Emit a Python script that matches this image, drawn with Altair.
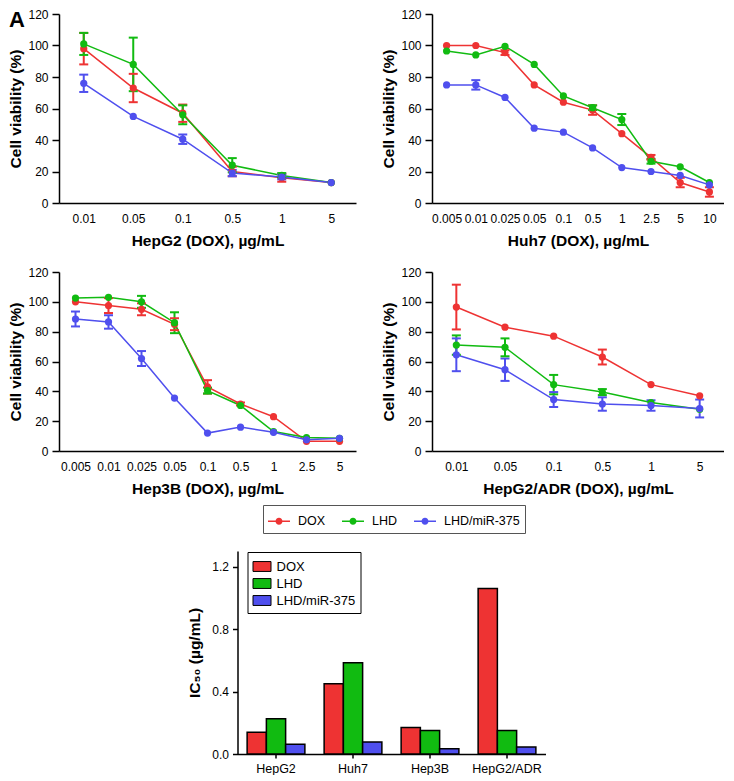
import altair as alt
import pandas as pd

SERIES = ["DOX", "LHD", "LHD/miR-375"]
COLORS = ["#EE3333", "#11BB11", "#4F4FEE"]
FONT = "Liberation Sans"

# ---- HepG2 ----
hepg2_doses = ["0.01", "0.05", "0.1", "0.5", "1", "5"]
hepg2_dox = [98, 73, 57, 20, 16, 13]
hepg2_dox_err = [10, 9, 5.5, 3, 2.5, 0]
hepg2_lhd = [101, 88, 56, 24, 17.5, 13]
hepg2_lhd_err = [7, 17, 6, 4.5, 1.5, 0]
hepg2_mir = [76, 55, 40.5, 19, 16.5, 13]
hepg2_mir_err = [5.5, 0, 3, 2, 1.5, 0]

# ---- Huh7 ----
huh7_doses = ["0.005", "0.01", "0.025", "0.05", "0.1", "0.5", "1", "2.5", "5", "10"]
huh7_dox = [100, 100, 95.5, 75, 64, 59, 44, 29, 13, 7]
huh7_dox_err = [0, 0, 1.5, 0, 0, 3, 0, 1.5, 3, 3]
huh7_lhd = [96.5, 94, 99.5, 88, 68, 60.5, 53, 26.5, 23, 13]
huh7_lhd_err = [0, 0, 0, 0, 0, 1.5, 3.5, 1.5, 0, 0]
huh7_mir = [75, 75, 67, 47.5, 45, 35, 22.5, 20, 17.5, 11.5]
huh7_mir_err = [0, 3, 0, 0, 0, 0, 0, 0, 0, 0]

# ---- Hep3B ----
hep3b_doses = ["0.005", "0.01", "0.025", "0.05", "0.1", "0.5", "1", "2.5", "5"]
hep3b_dox = [100, 97.5, 95, 85, 43, 31.5, 23, 6.5, 6.5]
hep3b_dox_err = [0, 5, 4, 4, 4.5, 1, 0, 0, 0]
hep3b_lhd = [102.5, 103, 100, 86, 40.5, 30.5, 13, 9, 8.5]
hep3b_lhd_err = [0, 0, 4, 7, 2, 0, 0, 0, 0]
hep3b_mir = [88.5, 86.5, 62, 35.5, 12, 16, 12.5, 7.5, 8.5]
hep3b_mir_err = [5, 4.5, 5, 0, 0, 0, 0, 0, 0]

# ---- HepG2/ADR ----
adr_doses = ["0.01", "0.05", "0.1", "0.5", "1", "5"]
adr_dox = [96.5, 83, 77, 63, 44.5, 37]
adr_dox_err = [15, 0, 0, 5, 0, 0]
adr_lhd = [71, 69.5, 44.5, 39.5, 32.5, 28]
adr_lhd_err = [6.5, 6, 6.5, 2, 0, 0]
adr_mir = [64.5, 54.5, 34.5, 31.5, 30.5, 28.5]
adr_mir_err = [11, 7.5, 5, 4.5, 3.5, 6]

# ---- IC50 bars ----
cells = ["HepG2", "Huh7", "Hep3B", "HepG2/ADR"]
ic50_dox = [0.14, 0.45, 0.17, 1.06]
ic50_lhd = [0.225, 0.585, 0.151, 0.151]
ic50_mir = [0.062, 0.077, 0.034, 0.045]

y_ticks = [0, 20, 40, 60, 80, 100, 120]
bar_ticks = [0, 0.4, 0.8, 1.2]

LEGEND_PATH = ("M-1,-0.07H1V0.07H-1Z "
               "M0.32,0A0.32,0.32,0,1,1,-0.32,0A0.32,0.32,0,1,1,0.32,0Z")
BAR_PATH = "M-1,-0.55H1V0.55H-1Z"


def long_df(doses, vals, errs):
    rows = []
    for s, v, e in zip(SERIES, vals, errs):
        for d, y, err in zip(doses, v, e):
            rows.append({"dose": d, "series": s, "value": y, "err": err,
                         "lo": y - err, "hi": y + err})
    return pd.DataFrame(rows)


def sc():
    # scale used by the channel that carries the legend
    return alt.Scale(domain=SERIES, range=COLORS)


def sc_rev():
    # same mapping, listed in reverse so legend-less channels never merge
    return alt.Scale(domain=SERIES[::-1], range=COLORS[::-1])


def panel(doses, vals, errs, xtitle, width, height, legend=None, label_a=False):
    df = long_df(doses, vals, errs)
    yaxis = alt.Axis(values=y_ticks, title="Cell viability (%)", tickSize=7,
                     labelPadding=4, titlePadding=4)
    yscale = alt.Scale(domain=[0, 120], nice=False)
    x = alt.X("dose:N", sort=doses, scale=alt.Scale(type="point", padding=0.5),
              axis=alt.Axis(title=xtitle, labelAngle=0, ticks=False,
                            labelPadding=10, titlePadding=9))
    base = alt.Chart(df)
    line = base.mark_line(strokeWidth=1.5).encode(
        x=x, y=alt.Y("value:Q", scale=yscale, axis=yaxis),
        stroke=alt.Stroke("series:N", scale=sc_rev(), legend=None),
        detail="series:N")
    errd = base.transform_filter("datum.err > 0")
    rules = errd.mark_rule(strokeWidth=2).encode(
        x=x, y=alt.Y("lo:Q", scale=yscale, axis=yaxis), y2="hi:Q",
        stroke=alt.Stroke("series:N", scale=sc_rev(), legend=None))
    top = errd.mark_tick(size=9, thickness=2, opacity=1).encode(
        x=x, y=alt.Y("hi:Q", scale=yscale, axis=yaxis),
        fill=alt.Fill("series:N", scale=sc_rev(), legend=None))
    bot = errd.mark_tick(size=9, thickness=2, opacity=1).encode(
        x=x, y=alt.Y("lo:Q", scale=yscale, axis=yaxis),
        fill=alt.Fill("series:N", scale=sc_rev(), legend=None))
    pts = base.mark_circle(size=52, opacity=1).encode(
        x=x, y=alt.Y("value:Q", scale=yscale, axis=yaxis),
        color=alt.Color("series:N", scale=sc(), legend=legend))
    layers = [line, rules, top, bot, pts]
    if label_a:
        lab = alt.Chart(pd.DataFrame({"t": ["A"]})).mark_text(
            fontSize=22, fontWeight="bold", font=FONT, align="left",
            baseline="alphabetic", color="black").encode(
            text="t:N", x=alt.value(-50), y=alt.value(13))
        layers.append(lab)
    return alt.layer(*layers).properties(width=width, height=height)


line_legend = alt.Legend(
    orient="none", legendX=204, legendY=233, direction="horizontal", title=None,
    symbolType=LEGEND_PATH, symbolSize=484, symbolStrokeWidth=0,
    labelFontSize=12.5, labelFont=FONT, labelColor="black", columnPadding=16,
    labelOffset=8, padding=5, strokeColor="#555555")

p1 = panel(hepg2_doses, [hepg2_dox, hepg2_lhd, hepg2_mir],
           [hepg2_dox_err, hepg2_lhd_err, hepg2_mir_err],
           "HepG2 (DOX), µg/mL", 297, 189, label_a=True)
p2 = panel(huh7_doses, [huh7_dox, huh7_lhd, huh7_mir],
           [huh7_dox_err, huh7_lhd_err, huh7_mir_err],
           "Huh7 (DOX), µg/mL", 292, 189)
p3 = panel(hep3b_doses, [hep3b_dox, hep3b_lhd, hep3b_mir],
           [hep3b_dox_err, hep3b_lhd_err, hep3b_mir_err],
           "Hep3B (DOX), µg/mL", 297, 179, legend=line_legend)
p4 = panel(adr_doses, [adr_dox, adr_lhd, adr_mir],
           [adr_dox_err, adr_lhd_err, adr_mir_err],
           "HepG2/ADR (DOX), µg/mL", 292, 179)

bar_rows = []
for s, vals in zip(SERIES, [ic50_dox, ic50_lhd, ic50_mir]):
    for c, v in zip(cells, vals):
        bar_rows.append({"cell": c, "series": s, "ic50": v})
bar_df = pd.DataFrame(bar_rows)

bar_legend = alt.Legend(
    orient="none", legendX=10, legendY=1, direction="vertical", title=None,
    symbolType=BAR_PATH, symbolSize=324, symbolStrokeColor="black",
    symbolStrokeWidth=1, labelFontSize=13, labelFont=FONT, labelColor="black",
    labelOffset=5, padding=5, rowPadding=-4, strokeColor="black")

bars = alt.Chart(bar_df).mark_bar(stroke="black", strokeWidth=1.5).encode(
    x=alt.X("cell:N", sort=cells,
            scale=alt.Scale(paddingInner=0.25, paddingOuter=0.125),
            axis=alt.Axis(title=None, labelAngle=0, tickSize=4, labelPadding=4,
                          labelFontSize=12.5)),
    xOffset=alt.XOffset("series:N", sort=SERIES,
                        scale=alt.Scale(paddingInner=0, paddingOuter=0)),
    y=alt.Y("ic50:Q", scale=alt.Scale(domain=[0, 1.3], nice=False),
            axis=alt.Axis(values=bar_ticks, format=".1f", title="IC₅₀ (µg/mL)",
                          tickSize=5, labelPadding=4, titlePadding=9)),
    color=alt.Color("series:N", scale=sc(), legend=bar_legend),
).properties(width=308, height=203)

indep = dict(color="independent", fill="independent", stroke="independent")
row1 = alt.hconcat(p1, p2, spacing=76, bounds="flush").resolve_scale(**indep)
row2 = alt.hconcat(p3, p4, spacing=76, bounds="flush").resolve_scale(**indep)

chart = alt.vconcat(row1, row2, bars, spacing=17, center=True).resolve_scale(
    **indep).properties(padding={"left": 0, "top": 0, "right": 0, "bottom": 0}
).configure_view(stroke=None).configure_axis(
    grid=False, domainColor="black", domainWidth=1.5, tickColor="black",
    tickWidth=1.5, labelColor="black", titleColor="black", labelFont=FONT,
    titleFont=FONT, labelFontSize=12, titleFontSize=15.5, titleFontWeight="bold"
).configure_legend(labelFont=FONT)

chart.save("out.html", embed_options={"renderer": "svg", "actions": False})
